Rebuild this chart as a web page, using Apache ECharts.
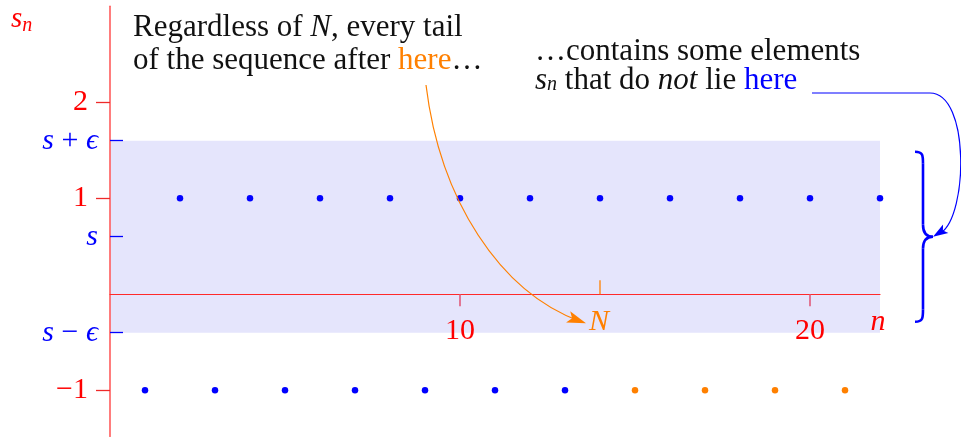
<!DOCTYPE html>
<html>
<head>
<meta charset="utf-8">
<script src="https://cdn.jsdelivr.net/npm/echarts@6/dist/echarts.min.js"></script>
<style>
  html, body { margin: 0; padding: 0; background: #fff; }
  #chart { width: 961px; height: 437px; }
</style>
</head>
<body>
<div id="chart"></div>
<script>
// Sequence s_n = (-1)^n for n = 1..22
const nValues = [1, 2, 3, 4, 5, 6, 7, 8, 9, 10, 11, 12, 13, 14, 15, 16, 17, 18, 19, 20, 21, 22];
const sValues = [-1, 1, -1, 1, -1, 1, -1, 1, -1, 1, -1, 1, -1, 1, -1, 1, -1, 1, -1, 1, -1, 1];
// Candidate limit s and tolerance epsilon
const limitS = 0.6;
const epsilon = 1;
// Index N after which the tail is examined
const tailStart = 14;
// Axis ticks
const xTickValues = [10, 20];
const xTickLabels = ['10', '20'];
const yTickValues = [2, 1, -1];
const yTickLabels = ['2', '1', '\u22121'];
const bandTickValues = [limitS + epsilon, limitS, limitS - epsilon];
const bandTickLabels = ['{i|s} + {i|\u03f5}', '{i|s}', '{i|s} \u2212 {i|\u03f5}'];
const xMin = 0, xMax = 22, yMin = -1.48, yMax = 3;

const serif = '"Liberation Serif", "DejaVu Serif", serif';
const RED = '#ff0000';
const BLUE = '#0000ff';
const ORANGE = '#ff8000';
const FS = 30;     // axis labels
const FT = 31;     // annotation text

// Split the points: tail elements outside the epsilon band are highlighted
const insidePts = [], outsidePts = [];
nValues.forEach((n, i) => {
  const v = sValues[i];
  const outside = n > tailStart && Math.abs(v - limitS) >= epsilon;
  (outside ? outsidePts : insidePts).push([n, v]);
});

function nearestLabel(value, values, labels) {
  let best = 0;
  values.forEach((v, i) => { if (Math.abs(v - value) < Math.abs(values[best] - value)) best = i; });
  return labels[best];
}

const chart = echarts.init(document.getElementById('chart'), null, { renderer: 'canvas' });

chart.setOption({
  animation: false,
  backgroundColor: '#fff',
  grid: { left: 110, right: 81, top: 6.3, bottom: 0.6, containLabel: false, outerBoundsMode: 'none' },
  xAxis: {
    type: 'value', min: xMin, max: xMax, interval: 10, z: 5,
    axisLine: { show: true, onZero: true, lineStyle: { color: '#ff2a2a', width: 1.2 } },
    axisTick: { show: true, customValues: xTickValues, length: 12, lineStyle: { color: '#e05a7a', width: 1.6 } },
    axisLabel: { show: false },
    splitLine: { show: false }
  },
  yAxis: [
    {
      type: 'value', min: yMin, max: yMax, position: 'left', z: 5,
      axisLine: { show: true, onZero: false, lineStyle: { color: '#ff5c5c', width: 1.6 } },
      axisTick: { show: true, customValues: yTickValues, length: 14, lineStyle: { color: '#ee2a2a', width: 1.3 } },
      axisLabel: {
        show: true, customValues: yTickValues, margin: 22, color: RED,
        fontFamily: serif, fontSize: FS,
        formatter: v => nearestLabel(v, yTickValues, yTickLabels)
      },
      splitLine: { show: false }
    },
    {
      type: 'value', min: yMin, max: yMax, position: 'left', z: 5,
      axisLine: { show: false },
      axisTick: { show: true, inside: true, customValues: bandTickValues, length: 13, lineStyle: { color: BLUE, width: 1.3 } },
      axisLabel: {
        show: true, customValues: bandTickValues, margin: 12, color: BLUE,
        fontFamily: serif, fontSize: FS,
        formatter: v => nearestLabel(v, bandTickValues, bandTickLabels),
        rich: { i: { fontStyle: 'italic', fontFamily: serif, fontSize: FS, color: BLUE } }
      },
      splitLine: { show: false }
    }
  ],
  series: [
    {
      // epsilon band around s
      type: 'scatter', data: [], z: 1, silent: true,
      markArea: {
        silent: true,
        itemStyle: { color: '#e5e5fc', opacity: 1 },
        data: [[{ xAxis: xMin, yAxis: limitS - epsilon }, { xAxis: xMax, yAxis: limitS + epsilon }]]
      }
    },
    {
      name: 'inside', type: 'scatter', data: insidePts, z: 6, silent: true,
      symbol: 'circle', symbolSize: 6.5, itemStyle: { color: BLUE, opacity: 1 }
    },
    {
      name: 'outside', type: 'scatter', data: outsidePts, z: 6, silent: true,
      symbol: 'circle', symbolSize: 6.5, itemStyle: { color: ORANGE, opacity: 1 }
    }
  ]
});

// Annotation layer, anchored to the data scale where it refers to data
const px = (x, y) => chart.convertToPixel({ gridIndex: 0 }, [x, y]);
const nPt = px(tailStart, 0);
const endPt = px(xMax, 0);
const topBand = px(xMax, limitS + epsilon);
const botBand = px(xMax, limitS - epsilon);
const sPt = px(xMax, limitS);

function arrowHead(tip, from, len, half, color) {
  const dx = tip[0] - from[0], dy = tip[1] - from[1];
  const d = Math.hypot(dx, dy);
  const ux = dx / d, uy = dy / d;
  const bx = tip[0] - ux * len, by = tip[1] - uy * len;
  return {
    type: 'polygon', z: 20,
    shape: { points: [tip, [bx - uy * half, by + ux * half], [tip[0] - ux * len * 0.78, tip[1] - uy * len * 0.78], [bx + uy * half, by - ux * half]] },
    style: { fill: color }
  };
}

const txt = (extra) => Object.assign({ fontFamily: serif, fontSize: FT, lineHeight: 33, fill: '#111' }, extra);
const txt2 = (extra) => Object.assign({ fontFamily: serif, fontSize: FT, lineHeight: 29, fill: '#111' }, extra);

// x tick labels placed under the axis that sits at y = 0
const xLabelGraphics = xTickValues.map((v, i) => {
  const p = px(v, 0);
  return {
    type: 'text', x: p[0], y: p[1] + 37, z: 20,
    style: { text: xTickLabels[i], fontFamily: serif, fontSize: FS, fill: RED, align: 'center', verticalAlign: 'middle' }
  };
});

// Orange arrow from "here" down to the N label
const oStart = [426, 85];
const oTip = [nPt[0] - 14, nPt[1] + 29];
const oC1 = [440, 200], oC2 = [500, 292];

// Brace spanning the band and the connector leading to its tip
const braceX = 923;
const braceTop = topBand[1] + 11, braceBot = botBand[1] - 11, braceMid = sPt[1];
const bStart = [812, 93], bCorner = [930, 93];
const bTip = [braceX + 10, braceMid];
const bC1 = [970, 93], bC2 = [968, bTip[1] - 22];

const braceStroke = { stroke: BLUE, lineWidth: 2.6, fill: null };

chart.setOption({
  graphic: xLabelGraphics.concat([
    {
      type: 'text', left: 11, top: 5, z: 20,
      style: {
        text: '{i|s}{sub|n}',
        rich: {
          i: txt({ fontStyle: 'italic', fill: RED, fontSize: 29 }),
          sub: { fontFamily: serif, fontStyle: 'italic', fontSize: 20, fill: RED, lineHeight: 20, verticalAlign: 'bottom' }
        }
      }
    },
    {
      type: 'text', left: 133, top: 12, z: 20,
      style: {
        text: '{r|Regardless of }{i|N}{r|, every tail}\n{r|of the sequence after }{o|here}{r|\u2026}',
        rich: { r: txt(), i: txt({ fontStyle: 'italic' }), o: txt({ fill: ORANGE }) }
      }
    },
    {
      type: 'text', left: 535, top: 36, z: 20,
      style: {
        text: '{r|\u2026contains some elements}\n{i|s}{sub|n}{r| that do }{i|not}{r| lie }{b|here}',
        rich: {
          r: txt2(), i: txt2({ fontStyle: 'italic' }), b: txt2({ fill: BLUE }),
          sub: { fontFamily: serif, fontStyle: 'italic', fontSize: 20, fill: '#111', lineHeight: 14, verticalAlign: 'bottom' }
        }
      }
    },
    // N marker on the axis
    {
      type: 'line', z: 20,
      shape: { x1: nPt[0], y1: nPt[1], x2: nPt[0], y2: nPt[1] - 14 },
      style: { stroke: ORANGE, lineWidth: 1.3 }
    },
    {
      type: 'text', x: nPt[0] - 1, y: nPt[1] + 28, z: 20,
      style: { text: 'N', fontFamily: serif, fontStyle: 'italic', fontSize: FS, fill: ORANGE, align: 'center', verticalAlign: 'middle' }
    },
    {
      type: 'text', x: endPt[0] - 2, y: endPt[1] + 28, z: 20,
      style: { text: 'n', fontFamily: serif, fontStyle: 'italic', fontSize: FS, fill: RED, align: 'center', verticalAlign: 'middle' }
    },
    {
      type: 'bezierCurve', z: 20,
      shape: { x1: oStart[0], y1: oStart[1], cpx1: oC1[0], cpy1: oC1[1], cpx2: oC2[0], cpy2: oC2[1], x2: oTip[0] - 6, y2: oTip[1] - 2 },
      style: { stroke: ORANGE, lineWidth: 1.2, fill: null }
    },
    arrowHead(oTip, oC2, 19, 6, ORANGE),
    // brace
    {
      type: 'bezierCurve', z: 20,
      shape: { x1: braceX - 8, y1: braceTop, cpx1: braceX, cpy1: braceTop, cpx2: braceX, cpy2: braceTop + 4, x2: braceX, y2: braceTop + 12 },
      style: braceStroke
    },
    {
      type: 'line', z: 20,
      shape: { x1: braceX, y1: braceTop + 12, x2: braceX, y2: braceMid - 12 },
      style: braceStroke
    },
    {
      type: 'bezierCurve', z: 20,
      shape: { x1: braceX, y1: braceMid - 12, cpx1: braceX, cpy1: braceMid - 3, cpx2: braceX + 4, cpy2: braceMid, x2: braceX + 10, y2: braceMid },
      style: braceStroke
    },
    {
      type: 'bezierCurve', z: 20,
      shape: { x1: braceX + 10, y1: braceMid, cpx1: braceX + 4, cpy1: braceMid, cpx2: braceX, cpy2: braceMid + 3, x2: braceX, y2: braceMid + 12 },
      style: braceStroke
    },
    {
      type: 'line', z: 20,
      shape: { x1: braceX, y1: braceMid + 12, x2: braceX, y2: braceBot - 12 },
      style: braceStroke
    },
    {
      type: 'bezierCurve', z: 20,
      shape: { x1: braceX, y1: braceBot - 12, cpx1: braceX, cpy1: braceBot - 4, cpx2: braceX, cpy2: braceBot, x2: braceX - 8, y2: braceBot },
      style: braceStroke
    },
    // connector
    {
      type: 'line', z: 20,
      shape: { x1: bStart[0], y1: bStart[1], x2: bCorner[0], y2: bCorner[1] },
      style: { stroke: BLUE, lineWidth: 1.2 }
    },
    {
      type: 'bezierCurve', z: 20,
      shape: { x1: bCorner[0], y1: bCorner[1], cpx1: bC1[0], cpy1: bC1[1], cpx2: bC2[0], cpy2: bC2[1], x2: bTip[0] + 8, y2: bTip[1] - 4 },
      style: { stroke: BLUE, lineWidth: 1.2, fill: null }
    },
    arrowHead(bTip, bC2, 15, 5, BLUE)
  ])
});
</script>
</body>
</html>
